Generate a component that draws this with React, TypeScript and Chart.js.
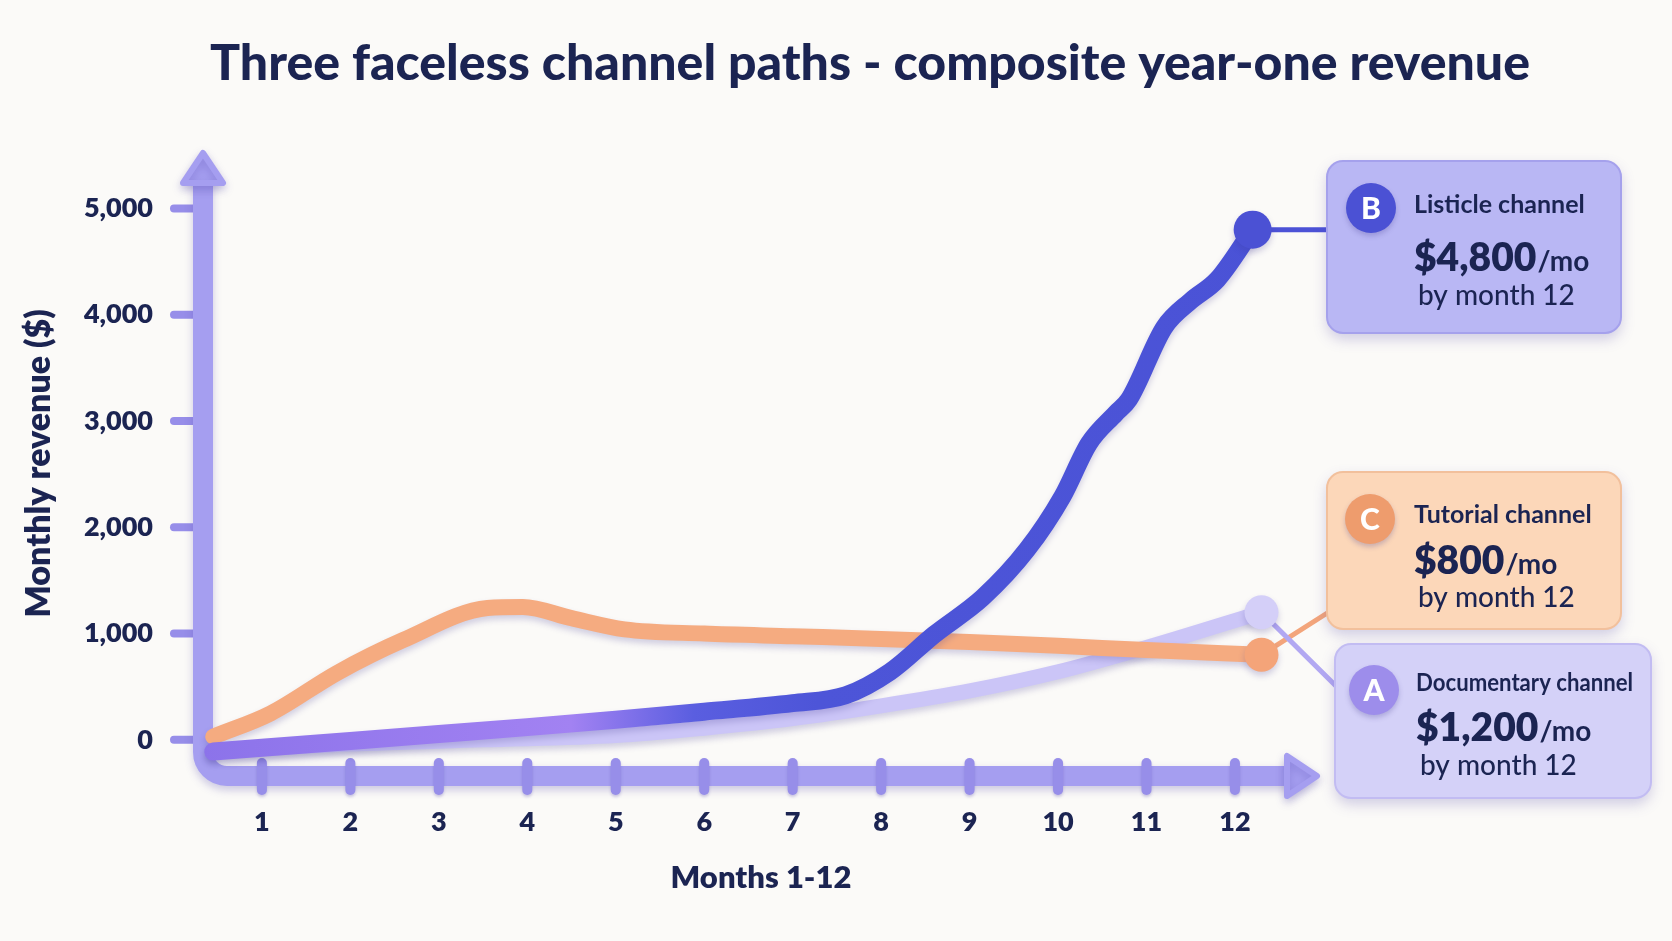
import React, { useEffect, useRef } from "react";
import { Chart, registerables } from "chart.js";

Chart.register(...registerables);

// Month positions and monthly revenue ($) for each channel path
const listicleMonths = [0.45, 1, 2, 3, 4, 5, 6, 7, 7.6, 8.1, 8.6, 9.15, 9.65, 10.05, 10.35, 10.65, 10.8, 11.2, 11.5, 11.8, 12.2];
const listicleRevenue = [-110, -75, -10, 55, 120, 190, 265, 345, 420, 640, 990, 1340, 1790, 2290, 2790, 3070, 3200, 3880, 4130, 4330, 4800];

const tutorialMonths = [0.45, 1.1, 1.85, 2.6, 3.55, 3.95, 4.5, 5.1, 6, 7, 8, 9, 10, 11, 12.3];
const tutorialRevenue = [30, 250, 630, 940, 1240, 1250, 1145, 1040, 1000, 975, 950, 920, 885, 845, 800];

const documentaryMonths = [0.45, 2, 3.5, 5, 6, 7, 8, 9, 10, 11, 12.3];
const documentaryRevenue = [-110, -40, 0, 40, 110, 200, 320, 460, 640, 870, 1200];

// Axis ticks
const monthTicks = [1, 2, 3, 4, 5, 6, 7, 8, 9, 10, 11, 12];
const revenueTicks = [0, 1000, 2000, 3000, 4000, 5000];

// Callout content, in dataset order
const channelLetters = ["B", "C", "A"];
const channelNames = ["Listicle channel", "Tutorial channel", "Documentary channel"];

const TITLE = "Three faceless channel paths - composite year-one revenue";
const NAVY = "#1b2452";
const FONT = "Lato, 'Noto Sans', sans-serif";
const AXIS = "#a59ef0";
const AXIS_DARK = "#978ee9";

// Callout card geometry (page pixels)
const cards = [
  { x: 1327, y: 161, w: 294, h: 172, fill: "#b9b7f4", edge: "#a5a1ec", dot: "#4b51d4", link: "#4c52d6", lx: 1332, ly: null as number | null, cx: 44, cy: 47, tx: 87, ny: 44, vy: 96, by: 135 },
  { x: 1327, y: 472, w: 294, h: 157, fill: "#fcd7b9", edge: "#f2c09c", dot: "#ee9c6d", link: "#f3a57b", lx: 1332, ly: 610, cx: 43, cy: 47, tx: 87, ny: 43, vy: 88, by: 126 },
  { x: 1335, y: 644, w: 316, h: 154, fill: "#d4d1f8", edge: "#c2bcf2", dot: "#9d8deb", link: "#b2a8f2", lx: 1340, ly: 690, cx: 39, cy: 46, tx: 81, ny: 39, vy: 83, by: 122 },
];

function roundRect(ctx: CanvasRenderingContext2D, x: number, y: number, w: number, h: number, r: number) {
  ctx.beginPath();
  ctx.moveTo(x + r, y);
  ctx.arcTo(x + w, y, x + w, y + h, r);
  ctx.arcTo(x + w, y + h, x, y + h, r);
  ctx.arcTo(x, y + h, x, y, r);
  ctx.arcTo(x, y, x + w, y, r);
  ctx.closePath();
}

const backgroundPlugin = {
  id: "paper",
  beforeDraw(chart: any) {
    const { ctx, width, height } = chart;
    ctx.save();
    ctx.fillStyle = "#fbfaf8";
    ctx.fillRect(0, 0, width, height);
    ctx.fillStyle = NAVY;
    ctx.font = `900 50px ${FONT}`;
    ctx.textAlign = "center";
    ctx.textBaseline = "middle";
    ctx.fillText(TITLE, 870, 64);
    ctx.restore();
  },
};

const axesPlugin = {
  id: "clayAxes",
  beforeDatasetsDraw(chart: any) {
    const { ctx, chartArea: a, scales } = chart;
    const x = scales.x;
    const y = scales.y;
    ctx.save();
    ctx.lineCap = "round";
    ctx.lineJoin = "round";

    // revenue tick stubs
    ctx.strokeStyle = AXIS_DARK;
    ctx.lineWidth = 8;
    for (const v of revenueTicks) {
      const py = y.getPixelForValue(v);
      ctx.beginPath();
      ctx.moveTo(174, py);
      ctx.lineTo(a.left, py);
      ctx.stroke();
    }

    // L-shaped axis bar with arrowheads
    ctx.shadowColor = "rgba(80,70,170,0.28)";
    ctx.shadowBlur = 8;
    ctx.shadowOffsetY = 4;
    ctx.strokeStyle = AXIS;
    ctx.lineWidth = 20;
    ctx.beginPath();
    ctx.moveTo(a.left, a.top + 24);
    ctx.arcTo(a.left, a.bottom, a.left + 40, a.bottom, 24);
    ctx.lineTo(a.right - 24, a.bottom);
    ctx.stroke();

    ctx.fillStyle = AXIS;
    ctx.lineWidth = 6;
    ctx.beginPath();
    ctx.moveTo(a.left, a.top + 2);
    ctx.lineTo(a.left + 20, a.top + 32);
    ctx.lineTo(a.left - 20, a.top + 32);
    ctx.closePath();
    ctx.fill();
    ctx.stroke();
    ctx.beginPath();
    ctx.moveTo(a.right - 2, a.bottom);
    ctx.lineTo(a.right - 32, a.bottom - 20);
    ctx.lineTo(a.right - 32, a.bottom + 20);
    ctx.closePath();
    ctx.fill();
    ctx.stroke();

    // month tick stubs
    ctx.shadowBlur = 3;
    ctx.shadowOffsetY = 2;
    ctx.strokeStyle = AXIS_DARK;
    ctx.lineWidth = 10;
    for (const m of monthTicks) {
      const px = x.getPixelForValue(m);
      ctx.beginPath();
      ctx.moveTo(px, a.bottom - 13);
      ctx.lineTo(px, a.bottom + 14);
      ctx.stroke();
    }

    // connectors from each end point to its card
    ctx.shadowColor = "transparent";
    chart.data.datasets.forEach((ds: any, i: number) => {
      const meta = chart.getDatasetMeta(i);
      const el = meta.data[meta.data.length - 1];
      const card = cards[i];
      ctx.strokeStyle = card.link;
      ctx.lineWidth = 5;
      ctx.beginPath();
      ctx.moveTo(el.x, el.y);
      ctx.lineTo(card.lx, card.ly == null ? el.y : card.ly);
      ctx.stroke();
    });
    ctx.restore();
  },
  beforeDatasetDraw(chart: any) {
    const ctx = chart.ctx;
    ctx.save();
    ctx.shadowColor = "rgba(60,50,140,0.22)";
    ctx.shadowBlur = 6;
    ctx.shadowOffsetY = 4;
  },
  afterDatasetDraw(chart: any) {
    chart.ctx.restore();
  },
};

const calloutPlugin = {
  id: "callouts",
  afterDraw(chart: any) {
    const ctx = chart.ctx as CanvasRenderingContext2D;
    chart.data.datasets.forEach((ds: any, i: number) => {
      const c = cards[i];
      const last = ds.data[ds.data.length - 1].y as number;
      ctx.save();
      ctx.shadowColor = "rgba(90,80,170,0.28)";
      ctx.shadowBlur = 14;
      ctx.shadowOffsetY = 6;
      roundRect(ctx, c.x, c.y, c.w, c.h, 16);
      ctx.fillStyle = c.fill;
      ctx.fill();
      ctx.shadowColor = "transparent";
      ctx.lineWidth = 2;
      ctx.strokeStyle = c.edge;
      ctx.stroke();

      // letter badge
      ctx.shadowColor = "rgba(60,50,140,0.25)";
      ctx.shadowBlur = 5;
      ctx.shadowOffsetY = 3;
      ctx.beginPath();
      ctx.arc(c.x + c.cx, c.y + c.cy, 25, 0, Math.PI * 2);
      ctx.fillStyle = c.dot;
      ctx.fill();
      ctx.shadowColor = "transparent";
      ctx.fillStyle = "#ffffff";
      ctx.font = `900 30px ${FONT}`;
      ctx.textAlign = "center";
      ctx.textBaseline = "middle";
      ctx.fillText(channelLetters[i], c.x + c.cx, c.y + c.cy + 1);

      ctx.fillStyle = NAVY;
      ctx.textAlign = "left";
      ctx.font = `bold 25px ${FONT}`;
      ctx.fillText(channelNames[i], c.x + c.tx, c.y + c.ny, c.w - c.tx - 18);

      const amount = "$" + last.toLocaleString("en-US");
      ctx.textBaseline = "alphabetic";
      ctx.font = `800 39px ${FONT}`;
      ctx.fillText(amount, c.x + c.tx, c.y + c.vy + 14);
      const w = ctx.measureText(amount).width;
      ctx.font = `bold 28px ${FONT}`;
      ctx.fillText("/mo", c.x + c.tx + w + 1, c.y + c.vy + 14);

      ctx.textBaseline = "middle";
      ctx.font = `500 28px ${FONT}`;
      ctx.fillText("by month 12", c.x + c.tx + 4, c.y + c.by);
      ctx.restore();
    });
  },
};

const pairs = (xs: number[], ys: number[]) => xs.map((m, i) => ({ x: m, y: ys[i] }));
const endDot = (r: number) => (ctx: any) => (ctx.dataIndex === ctx.dataset.data.length - 1 ? r : 0);

export default function App() {
  const ref = useRef<HTMLCanvasElement | null>(null);

  useEffect(() => {
    if (!ref.current) return;
    const tickFont = { family: FONT, size: 27, weight: "800" as any };
    const titleFont = { family: FONT, size: 34, weight: "800" as any };
    const chart = new Chart(ref.current, {
      type: "line",
      data: {
        datasets: [
          {
            label: "Listicle channel",
            data: pairs(listicleMonths, listicleRevenue),
            borderWidth: 18,
            borderColor: (ctx: any) => {
              const { chart: ch } = ctx;
              const area = ch.chartArea;
              if (!area) return "#4c52d6";
              const g = ch.ctx.createLinearGradient(area.left, 0, area.right, 0);
              g.addColorStop(0, "#8c73ea");
              g.addColorStop(0.33, "#a282f2");
              g.addColorStop(0.44, "#5a5ee0");
              g.addColorStop(0.55, "#4d55d8");
              g.addColorStop(1, "#4a52d6");
              return g;
            },
            pointBackgroundColor: "#4b51d4",
            pointBorderWidth: 0,
            pointRadius: endDot(19),
            cubicInterpolationMode: "monotone",
            borderCapStyle: "round",
            borderJoinStyle: "round",
            clip: false,
          },
          {
            label: "Tutorial channel",
            data: pairs(tutorialMonths, tutorialRevenue),
            borderWidth: 16,
            borderColor: "#f5ab80",
            pointBackgroundColor: "#f4a479",
            pointBorderWidth: 0,
            pointRadius: endDot(17),
            cubicInterpolationMode: "monotone",
            borderCapStyle: "round",
            borderJoinStyle: "round",
            clip: false,
          },
          {
            label: "Documentary channel",
            data: pairs(documentaryMonths, documentaryRevenue),
            borderWidth: 15,
            borderColor: "#cbc5f7",
            pointBackgroundColor: "#d4cff8",
            pointBorderWidth: 0,
            pointRadius: endDot(17),
            cubicInterpolationMode: "monotone",
            borderCapStyle: "round",
            borderJoinStyle: "round",
            clip: false,
          },
        ],
      },
      options: {
        responsive: false,
        animation: false,
        events: [],
        layout: { padding: { left: 0, top: 151, right: 353, bottom: 0 } },
        plugins: {
          legend: { display: false },
          tooltip: { enabled: false },
          title: { display: false },
        },
        scales: {
          x: {
            type: "linear",
            min: 0.334,
            max: 12.95,
            afterBuildTicks: (s: any) => {
              s.ticks = monthTicks.map((v) => ({ value: v }));
            },
            afterFit: (s: any) => {
              s.height = 165;
            },
            grid: { display: false, drawTicks: false },
            border: { display: false },
            ticks: {
              autoSkip: false,
              maxRotation: 0,
              padding: 30,
              color: NAVY,
              font: tickFont,
              callback: (v: any) => String(v),
            },
            title: {
              display: true,
              text: "Months 1-12",
              color: NAVY,
              font: { ...titleFont, size: 31 },
              padding: { top: 0, bottom: 44 },
            },
          },
          y: {
            type: "linear",
            min: -340,
            max: 5540,
            afterBuildTicks: (s: any) => {
              s.ticks = revenueTicks.map((v) => ({ value: v }));
            },
            afterFit: (s: any) => {
              s.width = 203;
            },
            grid: { display: false, drawTicks: false },
            border: { display: false },
            ticks: {
              padding: 50,
              color: NAVY,
              font: tickFont,
              callback: (v: any) => Number(v).toLocaleString("en-US"),
            },
            title: {
              display: true,
              text: "Monthly revenue ($)",
              color: NAVY,
              font: titleFont,
              padding: { top: 19, bottom: 0 },
            },
          },
        },
      },
      plugins: [backgroundPlugin, axesPlugin, calloutPlugin],
    });
    return () => chart.destroy();
  }, []);

  return (
    <div style={{ position: "fixed", left: 0, top: 0, width: 1672, height: 941, background: "#fbfaf8" }}>
      <canvas ref={ref} width={1672} height={941} style={{ display: "block" }} />
    </div>
  );
}
